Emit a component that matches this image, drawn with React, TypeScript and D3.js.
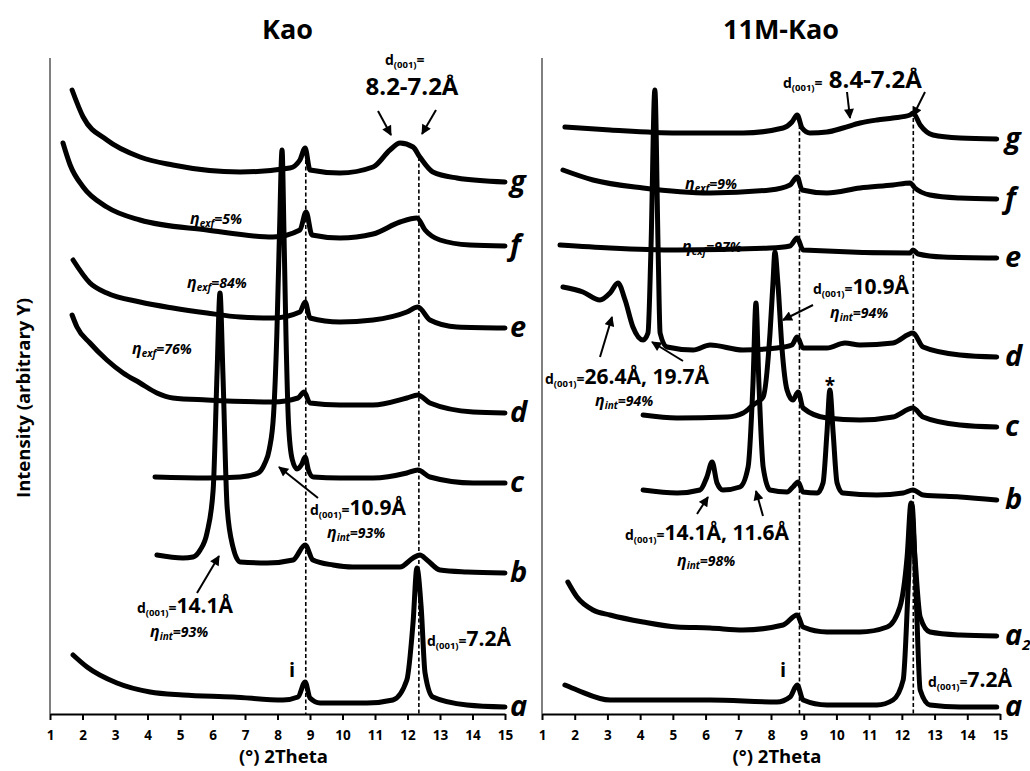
import React, { useEffect, useRef } from 'react'
import * as d3 from 'd3'

const W = 1030
const H = 771
const FONT = '"Open Sans", Lato, sans-serif'
const THETA_TICKS = d3.range(1, 16)
const I_MAX = 656

// Kao panel, [2theta, intensity]
const kaoA = [[1.71, 59], [2.14, 47], [3.06, 31], [4.08, 22], [5.09, 19], [6.63, 17], [8.17, 14], [8.63, 17], [8.85, 32], [9.0, 16], [9.31, 11], [10.75, 11], [11.55, 14], [11.98, 34], [12.17, 91], [12.29, 146], [12.42, 107], [12.54, 41], [12.78, 17], [13.83, 9], [15, 7]]
const kaoB = [[4.29, 159], [5.09, 156], [5.4, 157], [5.62, 164], [5.83, 181], [6.02, 224], [6.14, 341], [6.23, 421], [6.32, 341], [6.45, 207], [6.63, 167], [6.85, 152], [7.68, 151], [8.48, 154], [8.85, 169], [9.09, 154], [9.71, 149], [10.32, 147], [11.77, 147], [12.17, 156], [12.38, 159], [12.6, 154], [13.0, 144], [13.83, 142], [15, 141]]
const kaoC = [[4.23, 237], [5.83, 236], [6.85, 237], [7.4, 241], [7.6, 250], [7.75, 265], [7.88, 300], [7.98, 380], [8.06, 480], [8.14, 564], [8.2, 480], [8.26, 380], [8.34, 290], [8.45, 255], [8.6, 245], [8.75, 250], [8.85, 257], [8.95, 244], [9.1, 237], [9.92, 236], [10.94, 236], [11.98, 241], [12.32, 244], [12.69, 237], [14.02, 231], [15, 231]]
const kaoD = [[1.68, 399], [1.83, 387], [2.23, 371], [2.75, 354], [3.25, 341], [3.77, 331], [4.29, 321], [4.78, 316], [5.83, 314], [7.86, 312], [8.63, 316], [8.82, 322], [9.0, 311], [9.92, 309], [10.94, 309], [11.98, 316], [12.32, 319], [12.69, 311], [14.02, 302], [15, 301]]
const kaoE = [[1.71, 454], [2.23, 431], [2.75, 421], [3.77, 412], [4.78, 406], [5.83, 401], [6.85, 397], [7.86, 396], [8.69, 402], [8.85, 412], [9.0, 396], [9.92, 392], [10.94, 394], [11.98, 402], [12.32, 407], [12.69, 394], [13.52, 387], [15, 386]]
const kaoF = [[1.4, 571], [1.62, 549], [2.02, 527], [2.75, 507], [3.77, 494], [5.83, 484], [7.86, 477], [8.69, 484], [8.88, 502], [9.06, 479], [9.92, 476], [10.94, 480], [11.77, 492], [12.29, 496], [12.54, 484], [13.0, 474], [13.92, 469], [15, 468]]
const kaoG = [[1.68, 624], [2.02, 597], [2.75, 574], [3.77, 557], [4.78, 549], [6.85, 542], [8.38, 546], [8.69, 554], [8.85, 566], [9.0, 544], [9.92, 541], [10.94, 547], [11.46, 564], [11.77, 571], [12.17, 567], [12.38, 557], [12.78, 542], [13.52, 536], [15, 532]]

// 11M-Kao panel
const mkA = [[1.7, 29], [2.07, 24], [3.08, 14], [4.09, 14], [6.14, 14], [8.18, 12], [8.58, 17], [8.8, 29], [8.98, 14], [9.71, 9], [11.24, 9], [11.73, 14], [12.04, 34], [12.19, 124], [12.31, 209], [12.43, 124], [12.56, 24], [12.86, 9], [13.78, 7], [14.9, 7]]
const mkA2 = [[1.79, 132], [2.07, 117], [2.56, 104], [3.08, 99], [4.09, 92], [5.13, 87], [6.14, 86], [7.14, 84], [8.37, 89], [8.8, 99], [8.98, 87], [9.71, 82], [10.72, 82], [11.55, 87], [11.94, 107], [12.16, 157], [12.28, 211], [12.4, 157], [12.56, 97], [12.86, 82], [13.78, 79], [14.9, 78]]
const mkB = [[4.09, 224], [5.13, 221], [5.83, 224], [6.04, 237], [6.2, 252], [6.35, 231], [6.53, 224], [7.05, 227], [7.3, 247], [7.45, 331], [7.54, 411], [7.63, 331], [7.76, 247], [7.97, 224], [8.49, 222], [8.67, 227], [8.83, 232], [8.98, 222], [9.41, 221], [9.59, 231], [9.71, 281], [9.8, 324], [9.9, 281], [10.02, 231], [10.2, 221], [11.24, 219], [12.04, 221], [12.34, 224], [12.65, 219], [13.78, 217], [14.9, 214]]
const mkC = [[4.09, 299], [5.13, 296], [6.66, 297], [7.15, 301], [7.45, 309], [7.76, 317], [7.97, 381], [8.06, 431], [8.12, 462], [8.21, 431], [8.34, 364], [8.49, 324], [8.67, 314], [8.83, 322], [8.98, 306], [9.71, 296], [10.72, 294], [11.73, 297], [12.34, 306], [12.65, 297], [13.78, 289], [14.9, 287]]
const mkD = [[1.64, 427], [2.25, 422], [2.77, 414], [3.08, 421], [3.32, 431], [3.54, 414], [3.78, 387], [4.09, 374], [4.24, 381], [4.33, 464], [4.45, 624], [4.55, 464], [4.61, 381], [4.82, 367], [5.62, 364], [6.14, 369], [7.14, 364], [8.18, 366], [8.64, 369], [8.8, 377], [8.98, 366], [9.71, 366], [10.26, 371], [10.72, 369], [11.73, 371], [12.34, 381], [12.65, 367], [13.78, 359], [14.9, 357]]
const mkE = [[1.55, 469], [3.08, 466], [5.13, 464], [7.97, 466], [8.58, 468], [8.8, 476], [8.98, 464], [12.25, 461], [12.34, 464], [12.5, 460], [13.26, 457], [14.9, 456]]
const mkF = [[1.64, 544], [2.56, 534], [4.09, 526], [6.14, 521], [7.97, 524], [8.58, 529], [8.8, 537], [8.95, 524], [9.71, 521], [10.72, 526], [11.73, 529], [12.25, 531], [12.4, 526], [12.86, 519], [13.78, 516], [14.9, 515]]
const mkG = [[1.7, 587], [3.08, 584], [5.13, 581], [7.14, 581], [8.37, 586], [8.64, 592], [8.8, 599], [8.95, 586], [9.19, 581], [9.71, 582], [10.2, 586], [10.72, 591], [11.24, 594], [11.73, 596], [12.25, 599], [12.34, 601], [12.56, 589], [12.95, 579], [13.78, 576], [14.9, 575]]

const kaoSeries = [kaoA, kaoB, kaoC, kaoD, kaoE, kaoF, kaoG]
const kaoNames = ['a', 'b', 'c', 'd', 'e', 'f', 'g']
const mkSeries = [mkA, mkA2, mkB, mkC, mkD, mkE, mkF, mkG]
const mkNames = ['a', 'a2', 'b', 'c', 'd', 'e', 'f', 'g']
const REF_LINES = [8.87, 12.35]

const App = () => {
  const ref = useRef(null)

  useEffect(() => {
    const svg = d3.select(ref.current)
    svg.selectAll('*').remove()

    const defs = svg.append('defs')
    defs.append('marker')
      .attr('id', 'head')
      .attr('viewBox', '0 0 10 10')
      .attr('refX', 9).attr('refY', 5)
      .attr('markerWidth', 11).attr('markerHeight', 10)
      .attr('markerUnits', 'userSpaceOnUse')
      .attr('orient', 'auto')
      .append('path').attr('d', 'M0,0 L10,5 L0,10 z').attr('fill', '#000')

    const y = d3.scaleLinear().domain([0, I_MAX]).range([714, 58])

    const addD = (g, x, yy, value, big) => {
      const t = g.append('text').attr('x', x).attr('y', yy)
        .attr('font-family', FONT).attr('font-weight', 'bold')
      t.append('tspan').attr('font-size', 14).text('d')
      t.append('tspan').attr('font-size', 9.5).attr('dy', 3).text('(001)')
      t.append('tspan').attr('font-size', 14).attr('dy', -3).text('=')
      if (value) t.append('tspan').attr('font-size', big).text(value)
    }
    const addEta = (g, x, yy, sub, value) => {
      const t = g.append('text').attr('x', x).attr('y', yy)
        .attr('font-family', FONT).attr('font-weight', 'bold').attr('font-style', 'italic')
      t.append('tspan').attr('font-size', 16).text('η')
      t.append('tspan').attr('font-size', 10).attr('dy', 3).text(sub)
      t.append('tspan').attr('font-size', 14).attr('dy', -3).text('=' + value)
    }
    const arrow = (g, x1, y1, x2, y2) => {
      g.append('line').attr('x1', x1).attr('y1', y1).attr('x2', x2).attr('y2', y2)
        .attr('stroke', '#000').attr('stroke-width', 2).attr('marker-end', 'url(#head)')
    }

    const drawPanel = (x0, x1, title, series, names, guideTop) => {
      const x = d3.scaleLinear().domain([1, 15]).range([x0, x1])
      const g = svg.append('g')

      g.append('line').attr('x1', x0).attr('x2', x0).attr('y1', 58).attr('y2', 714)
        .attr('stroke', '#808080').attr('stroke-width', 2)

      REF_LINES.forEach((t, i) => {
        g.append('line').attr('x1', x(t)).attr('x2', x(t)).attr('y1', guideTop[i]).attr('y2', 714)
          .attr('stroke', '#000').attr('stroke-width', 1.6).attr('stroke-dasharray', '4,2.5')
      })

      const line = d3.line().x(d => x(d[0])).y(d => y(d[1])).curve(d3.curveMonotoneX)
      series.forEach((s, i) => {
        g.append('path').attr('d', line(s)).attr('fill', 'none').attr('stroke', '#000')
          .attr('stroke-width', 5).attr('stroke-linejoin', 'round').attr('stroke-linecap', 'round')
        const last = s[s.length - 1]
        const t = g.append('text').attr('x', x1 + 5).attr('y', y(last[1]) + 9)
          .attr('font-family', FONT).attr('font-weight', 'bold').attr('font-style', 'italic')
          .attr('font-size', 29)
        t.append('tspan').text(names[i][0])
        if (names[i].length > 1) t.append('tspan').attr('font-size', 15).attr('dy', 5).text(names[i].slice(1))
      })

      const axis = d3.axisBottom(x).tickValues(THETA_TICKS).tickSize(6).tickSizeOuter(0)
        .tickPadding(10).tickFormat(d3.format('d'))
      g.append('g').attr('transform', 'translate(0,714)').call(axis)
        .call(s => s.select('.domain').attr('stroke-width', 2))
        .call(s => s.selectAll('.tick line').attr('stroke-width', 2))
        .call(s => s.selectAll('.tick text').attr('font-size', 13.5).attr('font-weight', 'bold')
          .attr('font-family', FONT).attr('fill', '#000'))

      g.append('text').attr('x', (x0 + x1) / 2 + 6).attr('y', 763).attr('text-anchor', 'middle')
        .attr('font-family', FONT).attr('font-weight', 'bold').attr('font-size', 18.5).text('(°) 2Theta')
      g.append('text').attr('x', (x0 + x1) / 2 + 10).attr('y', 39).attr('text-anchor', 'middle')
        .attr('font-family', FONT).attr('font-weight', 'bold').attr('font-size', 27).text(title)
      return g
    }

    const L = drawPanel(50, 505, 'Kao', kaoSeries, kaoNames, [160, 157])
    const R = drawPanel(542, 1000, '11M-Kao', mkSeries, mkNames, [125, 118])

    // Kao annotations
    addD(L, 385, 65, '', 0)
    L.append('text').attr('x', 412).attr('y', 95).attr('text-anchor', 'middle').attr('font-family', FONT)
      .attr('font-weight', 'bold').attr('font-size', 24).text('8.2-7.2Å')
    arrow(L, 378, 111, 391, 135)
    arrow(L, 436, 110, 422, 134)
    addEta(L, 190, 224, 'exf', '5%')
    addEta(L, 187, 288, 'exf', '84%')
    addEta(L, 132, 354, 'exf', '76%')
    addD(L, 310, 515, '10.9Å', 21)
    arrow(L, 318, 498, 279, 467)
    addEta(L, 327, 538, 'int', '93%')
    addD(L, 137, 613, '14.1Å', 21)
    arrow(L, 197, 593, 219, 556)
    addEta(L, 150, 637, 'int', '93%')
    L.append('text').attr('x', 292).attr('y', 677).attr('text-anchor', 'middle').attr('font-family', FONT)
      .attr('font-weight', 'bold').attr('font-size', 20).text('i')
    addD(L, 427, 646, '7.2Å', 21)

    // 11M-Kao annotations
    addD(R, 783, 88, ' 8.4-7.2Å', 24)
    arrow(R, 847, 92, 850, 118)
    arrow(R, 925, 92, 913, 116)
    addEta(R, 685, 189, 'exf', '9%')
    addEta(R, 682, 252, 'exf', '97%')
    addD(R, 813, 294, '10.9Å', 21)
    arrow(R, 813, 305, 783, 320)
    addEta(R, 830, 318, 'int', '94%')
    addD(R, 545, 384, '26.4Å, 19.7Å', 21)
    arrow(R, 600, 357, 612, 317)
    arrow(R, 683, 361, 652, 342)
    addEta(R, 595, 406, 'int', '94%')
    R.append('text').attr('x', 830).attr('y', 392).attr('text-anchor', 'middle').attr('font-family', FONT)
      .attr('font-weight', 'bold').attr('font-size', 19).text('*')
    addD(R, 625, 540, '14.1Å, 11.6Å', 21)
    arrow(R, 697, 514, 708, 497)
    arrow(R, 763, 516, 756, 491)
    addEta(R, 677, 566, 'int', '98%')
    R.append('text').attr('x', 783).attr('y', 677).attr('text-anchor', 'middle').attr('font-family', FONT)
      .attr('font-weight', 'bold').attr('font-size', 20).text('i')
    addD(R, 928, 687, '7.2Å', 21)

    svg.append('text').attr('transform', 'translate(30,398) rotate(-90)').attr('text-anchor', 'middle')
      .attr('font-family', FONT).attr('font-weight', 'bold').attr('font-size', 18.5)
      .text('Intensity (arbitrary Y)')
  }, [])

  return <svg ref={ref} width={W} height={H} style={{ position: 'absolute', left: 0, top: 0, background: '#fff' }} />
}

export default App
